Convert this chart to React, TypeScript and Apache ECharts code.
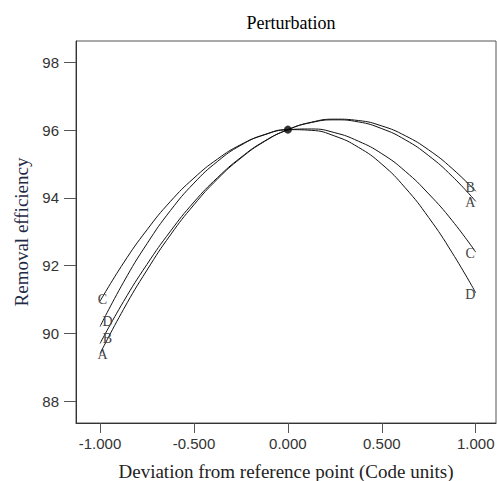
import React, { useEffect, useRef } from "react";
import * as echarts from "echarts";

const xValues = [
  -1, -0.875, -0.75, -0.625, -0.5, -0.375, -0.25, -0.125, 0,
  0.125, 0.25, 0.375, 0.5, 0.625, 0.75, 0.875, 1,
];
const curveNames = ["A", "B", "C", "D"];
const curveA = [
  89.4, 90.71, 91.87, 92.91, 93.8, 94.56, 95.18, 95.67, 96.02,
  96.23, 96.31, 96.25, 96.05, 95.72, 95.25, 94.64, 93.9,
];
const curveB = [
  89.7, 90.94, 92.04, 93.02, 93.88, 94.6, 95.2, 95.68, 96.02,
  96.24, 96.33, 96.29, 96.13, 95.84, 95.42, 94.87, 94.2,
];
const curveC = [
  90.95, 92.08, 93.06, 93.9, 94.59, 95.15, 95.58, 95.87, 96.02,
  96.04, 95.93, 95.68, 95.31, 94.79, 94.12, 93.33, 92.4,
];
const curveD = [
  90.2, 91.51, 92.65, 93.63, 94.44, 95.08, 95.56, 95.87, 96.02,
  96.0, 95.83, 95.5, 95.0, 94.3, 93.42, 92.38, 91.2,
];
const referencePoint = [0, 96.02];
const yTicks = [88, 90, 92, 94, 96, 98];
const xTicks = [-1, -0.5, 0, 0.5, 1];

const serif = "'Liberation Serif', 'Times New Roman', serif";
const sans = "'Liberation Sans', Arial, sans-serif";

export default function App() {
  const ref = useRef<HTMLDivElement>(null);
  useEffect(() => {
    if (!ref.current) return;
    const chart = echarts.init(ref.current, null, { renderer: "svg" });
    const curves = [curveA, curveB, curveC, curveD];
    const leftOffsets: Record<string, number[]> = {
      A: [3, 1],
      B: [8, -4],
      C: [3, -1],
      D: [8, -5],
    };
    const rightOffsets: Record<string, number[]> = {
      A: [-5, 2],
      B: [-5, -3],
      C: [-5, 2],
      D: [-5, 2],
    };
    const lineSeries = curves.map((vals, i) => ({
      type: "line",
      name: curveNames[i],
      data: xValues.map((x, j) => [x, vals[j]]),
      smooth: true,
      showSymbol: false,
      lineStyle: { color: "#111", width: 1 },
      z: 2,
    }));
    const labelData: any[] = [];
    curves.forEach((vals, i) => {
      const n = curveNames[i];
      labelData.push({
        value: [xValues[0], vals[0], n],
        label: { offset: leftOffsets[n] },
      });
      labelData.push({
        value: [xValues[xValues.length - 1], vals[vals.length - 1], n],
        label: { offset: rightOffsets[n] },
      });
    });
    chart.setOption({
      animation: false,
      title: {
        text: "Perturbation",
        left: 286,
        top: 9,
        textAlign: "center",
        textStyle: {
          fontFamily: serif,
          fontSize: 18,
          fontWeight: "normal",
          color: "#000",
        },
      },
      grid: {
        left: 76,
        right: 1,
        top: 41,
        bottom: 58,
        containLabel: false,
        outerBoundsMode: "none",
        show: true,
        borderColor: "#555",
        borderWidth: 1,
        backgroundColor: "transparent",
      },
      xAxis: {
        type: "value",
        min: -1.128,
        max: 1.108,
        name: "Deviation from reference point (Code units)",
        nameLocation: "middle",
        nameGap: 39,
        nameTextStyle: { fontFamily: serif, fontSize: 19, color: "#222" },
        axisLine: { show: true, onZero: false, lineStyle: { color: "#333" } },
        axisTick: {
          show: true,
          length: 10,
          customValues: xTicks,
          lineStyle: { color: "#555" },
        },
        axisLabel: {
          customValues: xTicks,
          margin: 13,
          fontFamily: sans,
          fontSize: 15,
          color: "#333",
          formatter: (v: number) => v.toFixed(3),
        },
        splitLine: { show: false },
      },
      yAxis: {
        type: "value",
        min: 87.35,
        max: 98.64,
        name: "Removal efficiency",
        nameLocation: "middle",
        nameGap: 43,
        nameRotate: 90,
        nameTextStyle: { fontFamily: serif, fontSize: 19, color: "#1f2a44" },
        axisLine: { show: true, onZero: false, lineStyle: { color: "#333" } },
        axisTick: {
          show: true,
          length: 12,
          customValues: yTicks,
          lineStyle: { color: "#555" },
        },
        axisLabel: {
          customValues: yTicks,
          margin: 17,
          fontFamily: sans,
          fontSize: 15,
          color: "#333",
        },
        splitLine: { show: false },
      },
      series: [
        ...lineSeries,
        {
          type: "scatter",
          name: "labels",
          data: labelData,
          symbolSize: 1,
          itemStyle: { color: "#444", opacity: 0.01 },
          label: {
            show: true,
            position: [0, 0],
            align: "center",
            verticalAlign: "middle",
            formatter: (p: any) => p.value[2],
            fontFamily: serif,
            fontSize: 14,
            color: "#444",
            opacity: 1,
          },
          z: 3,
        },
        {
          type: "scatter",
          name: "reference",
          data: [referencePoint],
          symbol: "circle",
          symbolSize: 8,
          itemStyle: { color: "#000" },
          z: 4,
        },
      ],
    });
    return () => chart.dispose();
  }, []);
  return (
    <div
      ref={ref}
      style={{ position: "absolute", left: 0, top: 0, width: 497, height: 481 }}
    />
  );
}
